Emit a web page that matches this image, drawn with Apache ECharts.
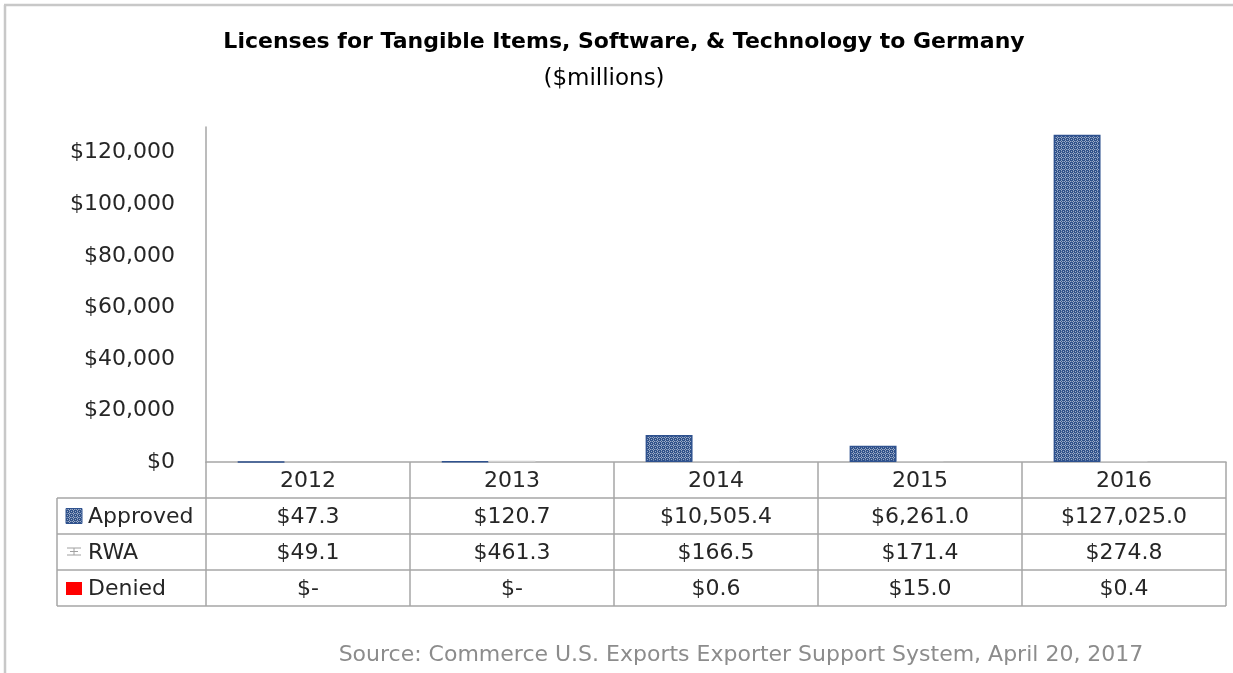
<!DOCTYPE html>
<html>
<head>
<meta charset="utf-8">
<script src="https://cdn.jsdelivr.net/npm/echarts@6/dist/echarts.min.js"></script>
<style>
html,body{margin:0;padding:0;background:#fff;}
#c{width:1233px;height:673px;}
</style>
</head>
<body>
<div id="c"></div>
<script>
// ---- data ----
const years = ['2012', '2013', '2014', '2015', '2016'];
const approved = [47.3, 120.7, 10505.4, 6261.0, 127025.0];
const rwa = [49.1, 461.3, 166.5, 171.4, 274.8];
const denied = [0, 0, 0.6, 15.0, 0.4];
const seriesNames = ['Approved', 'RWA', 'Denied'];
const titleText = 'Licenses for Tangible Items, Software, & Technology to Germany';
const subtitleText = '($millions)';
const sourceText = 'Source: Commerce U.S. Exports Exporter Support System, April 20, 2017';

const FONT = '"DejaVu Sans", sans-serif';
const TEXT = '#262626';
const LINE = '#A6A6A6';

function makePattern() {
  const c = document.createElement('canvas');
  c.width = 4; c.height = 4;
  const g = c.getContext('2d');
  g.fillStyle = '#2F5189';
  g.fillRect(0, 0, 4, 4);
  g.fillStyle = '#9AABC8';
  [[1,0],[0,1],[2,1],[1,2],[3,3]].forEach(p => g.fillRect(p[0], p[1], 1, 1));
  g.fillStyle = '#5F77A2';
  [[3,1],[1,3]].forEach(p => g.fillRect(p[0], p[1], 1, 1));
  return c;
}
const patternCanvas = makePattern();

function fmtMoney(v) {
  if (v === 0) return '$-';
  return '$' + v.toLocaleString('en-US', {minimumFractionDigits: 1, maximumFractionDigits: 1});
}

const chart = echarts.init(document.getElementById('c'), null, {renderer: 'canvas'});

chart.setOption({
  animation: false,
  backgroundColor: '#fff',
  grid: {left: 206, right: 7, top: 127, bottom: 211, containLabel: false},
  xAxis: {
    type: 'category',
    data: years,
    axisLine: {show: true, lineStyle: {color: LINE, width: 1.5}},
    axisTick: {show: false},
    axisLabel: {show: false},
    splitLine: {show: false}
  },
  yAxis: {
    type: 'value',
    min: 0,
    max: 130000,
    interval: 20000,
    axisLine: {show: true, lineStyle: {color: LINE, width: 1.5}},
    axisTick: {show: false},
    splitLine: {show: false},
    axisLabel: {
      showMaxLabel: false,
      margin: 31,
      color: TEXT,
      fontFamily: FONT,
      fontSize: 22,
      formatter: v => v > 120000 ? '' : '$' + v.toLocaleString('en-US')
    }
  },
  series: [
    {
      name: seriesNames[0], type: 'bar', data: approved,
      barGap: '0%', barCategoryGap: '31%',
      itemStyle: {color: {image: patternCanvas, repeat: 'repeat'}, borderColor: '#2F528F', borderWidth: 1.5}
    },
    {
      name: seriesNames[1], type: 'bar', data: rwa,
      barGap: '0%', barCategoryGap: '31%',
      itemStyle: {color: '#D0D0D0'}
    },
    {
      name: seriesNames[2], type: 'bar', data: denied,
      barGap: '0%', barCategoryGap: '31%',
      itemStyle: {color: '#FF0000'}
    }
  ]
});

// ---- data table and texts, positioned from the axes ----
const centers = years.map(y => chart.convertToPixel({xAxisIndex: 0}, y));
const band = centers[1] - centers[0];
const x0 = centers[0] - band / 2;
const xEnd = centers[centers.length - 1] + band / 2;
const yZero = chart.convertToPixel({yAxisIndex: 0}, 0);
const rowH = 36;
const labelLeft = 57;
const rows = [approved, rwa, denied];

const g = [];
function line(x1, y1, x2, y2, color, w) {
  g.push({type: 'line', shape: {x1, y1, x2, y2}, style: {stroke: color || LINE, lineWidth: w || 1.5}, silent: true});
}
function text(str, x, y, opts) {
  g.push({type: 'text', x, y, style: Object.assign({
    text: str, fill: TEXT, font: '22px ' + FONT, textAlign: 'center', textVerticalAlign: 'middle'
  }, opts || {}), silent: true});
}

// outer frame lines (top & left)
line(4, 5, 1233, 5, '#C8C8C8', 2.5);
line(5, 5, 5, 673, '#C8C8C8', 2.5);

// horizontal table lines
for (let r = 1; r <= 4; r++) {
  line(labelLeft, yZero + r * rowH, xEnd, yZero + r * rowH);
}
// vertical lines
line(labelLeft, yZero + rowH, labelLeft, yZero + 4 * rowH);
for (let i = 0; i <= years.length; i++) {
  const x = x0 + i * band;
  line(x, yZero, x, yZero + 4 * rowH);
}
// year header
years.forEach((y, i) => text(y, centers[i], yZero + rowH / 2 + 1));
// values
rows.forEach((arr, r) => {
  arr.forEach((v, i) => text(fmtMoney(v), centers[i], yZero + rowH * (r + 1.5) + 1));
  text(seriesNames[r], 88, yZero + rowH * (r + 1.5) + 1, {textAlign: 'left'});
});
// legend keys
const ky = [yZero + rowH * 1.5, yZero + rowH * 2.5, yZero + rowH * 3.5];
g.push({type: 'rect', shape: {x: 66, y: ky[0] - 7.5, width: 16, height: 15},
  style: {fill: {image: patternCanvas, repeat: 'repeat'}, stroke: '#2F528F', lineWidth: 1}, silent: true});
line(67, ky[1] - 4, 81, ky[1] - 4, '#A0A0A0', 1);
line(67, ky[1] + 3, 81, ky[1] + 3, '#A0A0A0', 1);
line(74, ky[1] - 4, 74, ky[1] + 3, '#A0A0A0', 1);
line(70, ky[1] - 0.5, 78, ky[1] - 0.5, '#A0A0A0', 1);
g.push({type: 'rect', shape: {x: 66, y: ky[2] - 6, width: 16, height: 13}, style: {fill: '#FF0000'}, silent: true});

// titles and source
text(titleText, 624, 42, {font: 'bold 22px ' + FONT, fill: '#000'});
text(subtitleText, 604, 79, {font: '23px ' + FONT, fill: '#000'});
text(sourceText, 741, 655, {font: '22px ' + FONT, fill: '#8C8C8C'});

chart.setOption({graphic: {elements: g}});
</script>
</body>
</html>
